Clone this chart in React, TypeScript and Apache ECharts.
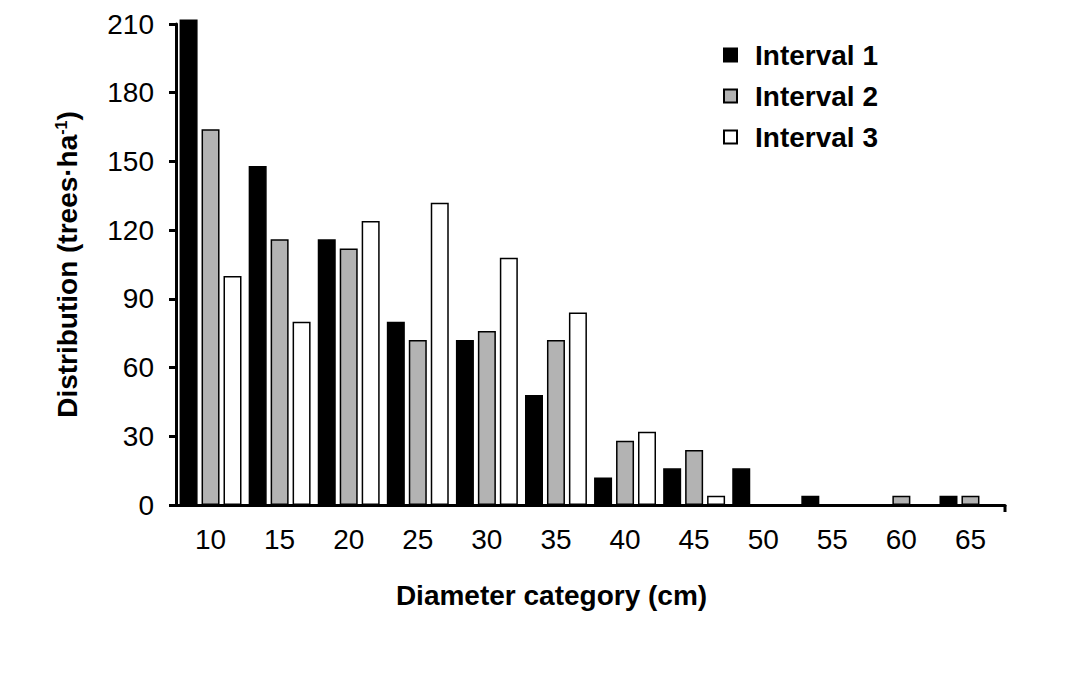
import React, { useEffect, useRef } from "react";
import * as echarts from "echarts";

const categories = ["10", "15", "20", "25", "30", "35", "40", "45", "50", "55", "60", "65"];
const interval1 = [212, 148, 116, 80, 72, 48, 12, 16, 16, 4, 0, 4];
const interval2 = [164, 116, 112, 72, 76, 72, 28, 24, 0, 0, 4, 4];
const interval3 = [100, 80, 124, 132, 108, 84, 32, 4, 0, 0, 0, 0];
const seriesNames = ["Interval 1", "Interval 2", "Interval 3"];
const yTicks = { min: 0, max: 210, interval: 30 };

const font = "'Liberation Sans', Arial, Helvetica, sans-serif";

export default function App() {
  const ref = useRef<HTMLDivElement>(null);
  useEffect(() => {
    if (!ref.current) return;
    const chart = echarts.init(ref.current, null, { renderer: "svg" });
    const fills = ["#000000", "#b3b3b3", "#ffffff"];
    const data = [interval1, interval2, interval3];
    const gridLeft = 168;
    const gridRight = 75;
    const gridBottom = 177;
    const W = 1072;
    const H = 674;
    chart.setOption({
      animation: false,
      backgroundColor: "#ffffff",
      grid: { left: gridLeft, right: gridRight, top: 16, bottom: gridBottom, containLabel: false },
      legend: {
        orient: "vertical",
        left: 710,
        top: 28,
        icon: "rect",
        itemWidth: 13,
        itemHeight: 13,
        itemGap: 13,
        data: seriesNames,
        textStyle: { fontFamily: font, fontWeight: "bold", fontSize: 28, color: "#000", padding: [0, 0, 0, 13] },
      },
      graphic: [
        {
          type: "line",
          shape: { x1: W - gridRight, y1: H - gridBottom, x2: W - gridRight, y2: H - gridBottom + 7 },
          style: { stroke: "#000", lineWidth: 3 },
        },
      ],
      xAxis: {
        type: "category",
        data: categories,
        name: "Diameter category (cm)",
        nameLocation: "middle",
        nameGap: 76,
        nameTextStyle: { fontFamily: font, fontWeight: "bold", fontSize: 28, color: "#000", padding: [0, 78, 0, 0] },
        axisLine: { lineStyle: { color: "#000", width: 3 } },
        axisTick: { alignWithLabel: true, length: 7, lineStyle: { color: "#000", width: 3 } },
        axisLabel: { fontFamily: font, fontSize: 28, color: "#000", margin: 20 },
      },
      yAxis: {
        type: "value",
        min: yTicks.min,
        max: yTicks.max,
        interval: yTicks.interval,
        name: "Distribution (trees·ha{sup|-1})",
        nameLocation: "middle",
        nameGap: 95,
        nameTextStyle: {
          fontFamily: font,
          fontWeight: "bold",
          fontSize: 28,
          color: "#000",
          rich: {
            sup: { fontFamily: font, fontWeight: "bold", fontSize: 16, color: "#000", verticalAlign: "top", padding: [0, 0, 12, 0] },
          },
        },
        splitLine: { show: false },
        axisLine: { show: true, lineStyle: { color: "#000", width: 3 } },
        axisTick: { show: true, length: 7, lineStyle: { color: "#000", width: 3 } },
        axisLabel: { fontFamily: font, fontSize: 28, color: "#000", margin: 22 },
      },
      series: seriesNames.map((name, i) => ({
        name,
        type: "bar",
        data: data[i],
        barWidth: 18,
        barGap: "22%",
        clip: false,
        itemStyle: { color: fills[i], borderColor: "#000", borderWidth: 1.5 },
      })),
    });
    return () => chart.dispose();
  }, []);
  return <div ref={ref} style={{ width: 1072, height: 674 }} />;
}
